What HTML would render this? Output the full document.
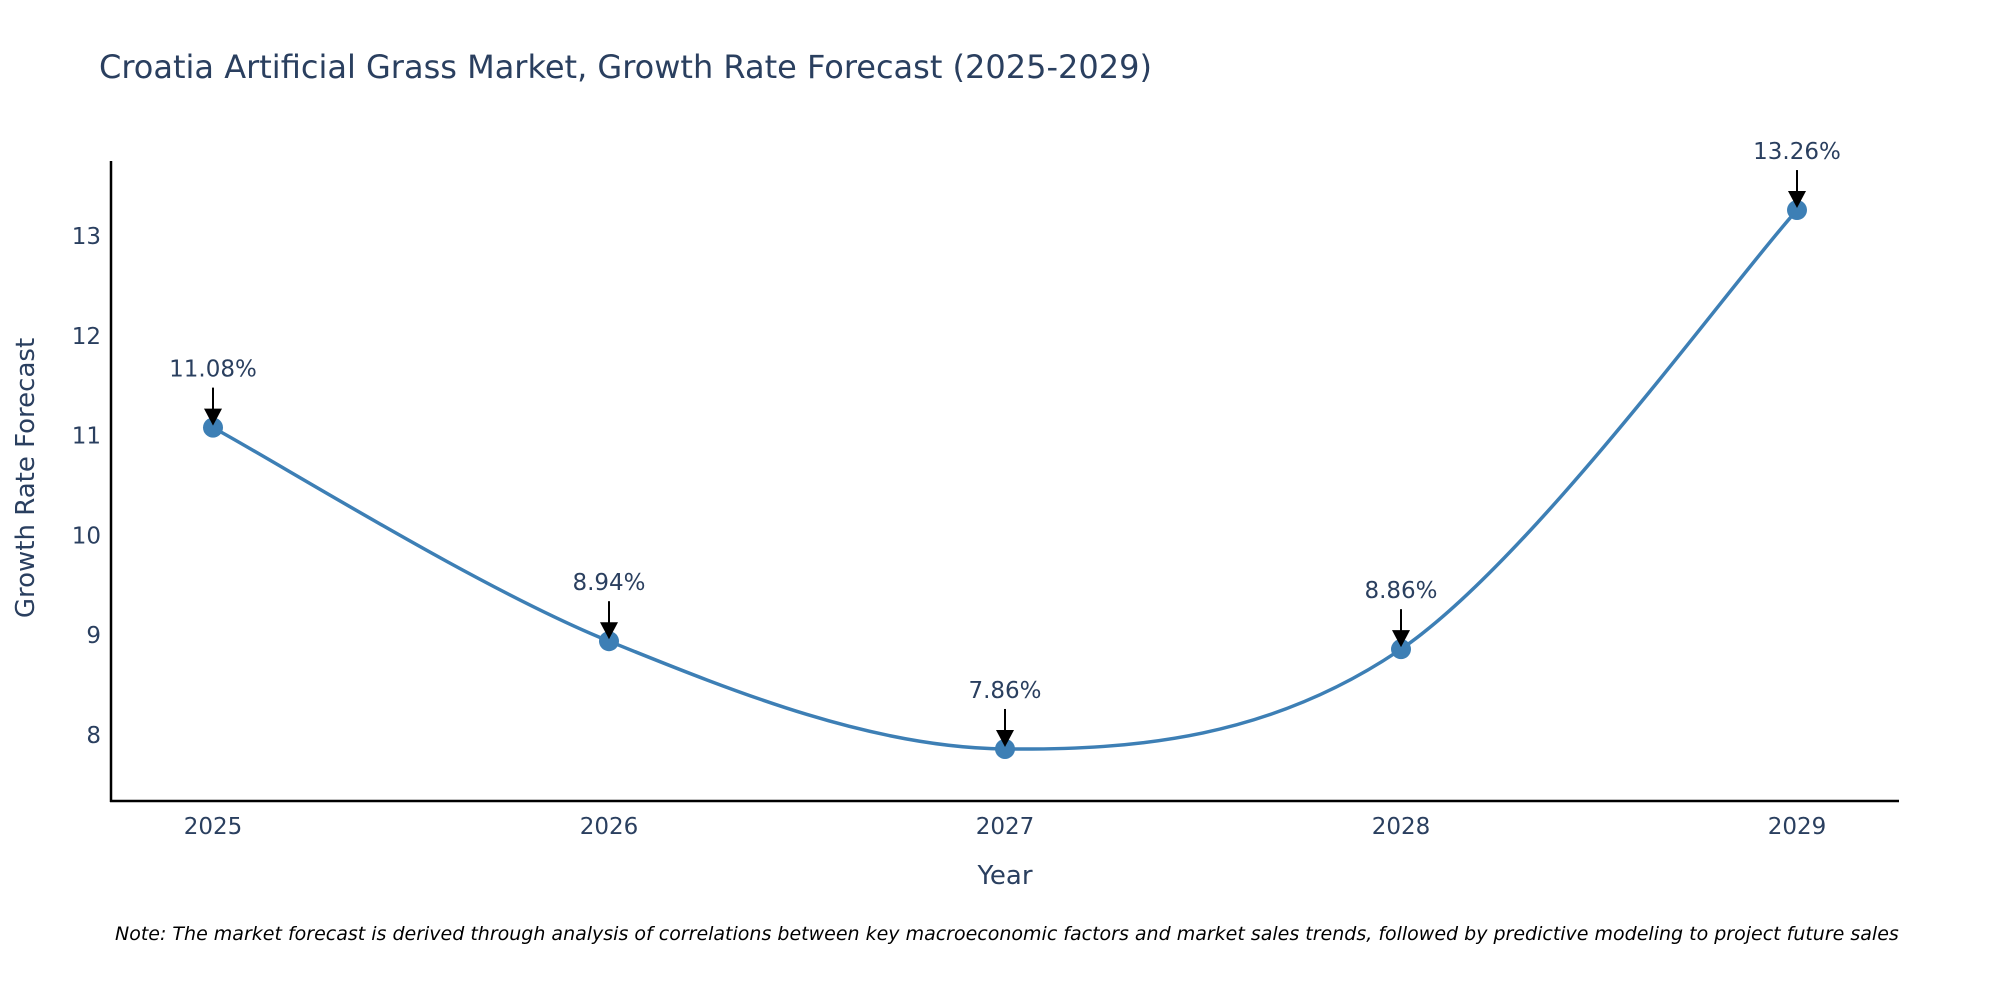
<!DOCTYPE html>
<html><head><meta charset="utf-8"><style>
body{margin:0;background:#fff;}
svg{display:block;font-family:"DejaVu Sans","Liberation Sans",sans-serif;}
</style></head><body>
<svg id="chart" width="2000" height="1000">
<text x="99" y="78" font-size="32" fill="#2a3f5f">Croatia Artificial Grass Market, Growth Rate Forecast (2025-2029)</text>
<g id="yticks"></g>
<g id="xticks"></g>
<line x1="111" y1="161" x2="111" y2="802" stroke="#000" stroke-width="2.5"/>
<line x1="110" y1="801" x2="1899" y2="801" stroke="#000" stroke-width="2.5"/>
<path id="line" fill="none" stroke="#3d7fb5" stroke-width="3.5"/>
<g id="pts"></g>
<text x="1005" y="884" font-size="26" fill="#2a3f5f" text-anchor="middle">Year</text>
<text transform="translate(34,478) rotate(-90)" font-size="26" fill="#2a3f5f" text-anchor="middle">Growth Rate Forecast</text>
<text x="115" y="940" font-size="19" font-style="italic" fill="#000">Note: The market forecast is derived through analysis of correlations between key macroeconomic factors and market sales trends, followed by predictive modeling to project future sales</text>
</svg>
<script>
const years=["2025","2026","2027","2028","2029"];
const values=[11.08,8.94,7.86,8.86,13.26];
const yTicks=[8,9,10,11,12,13];
const NS="http://www.w3.org/2000/svg";
function xs(i){return 213+i*(1797-213)/4;}
function ys(v){return 735-(v-8)*99.8;}
const svg=document.getElementById('chart');
function mk(t,a,p){const e=document.createElementNS(NS,t);for(const k in a)e.setAttribute(k,a[k]);(p||svg).appendChild(e);return e;}
const yt=document.getElementById('yticks');
yTicks.forEach(v=>{const t=mk('text',{x:101,y:ys(v)+8,'font-size':23,fill:'#2a3f5f','text-anchor':'end'},yt);t.textContent=v;

});
const xt=document.getElementById('xticks');
years.forEach((y,i)=>{const t=mk('text',{x:xs(i),y:834,'font-size':23,fill:'#2a3f5f','text-anchor':'middle'},xt);t.textContent=y;

});
const P=values.map((v,i)=>[xs(i),ys(v)]);
let d=`M${P[0][0]},${P[0][1]}`;const s=0.33;
for(let i=0;i<P.length-1;i++){const p0=P[Math.max(i-1,0)],p1=P[i],p2=P[i+1],p3=P[Math.min(i+2,P.length-1)];
const c1=[p1[0]+(p2[0]-p0[0])*s/2,p1[1]+(p2[1]-p0[1])*s/2],c2=[p2[0]-(p3[0]-p1[0])*s/2,p2[1]-(p3[1]-p1[1])*s/2];
d+=` C${c1[0]},${c1[1]} ${c2[0]},${c2[1]} ${p2[0]},${p2[1]}`;}
document.getElementById('line').setAttribute('d',d);
const g=document.getElementById('pts');
P.forEach((p,i)=>{const c=mk('circle',{cx:p[0],cy:p[1],r:10,fill:'#3d7fb5'},g);


const l=mk('line',{x1:p[0],y1:p[1]-40,x2:p[0],y2:p[1]-14,stroke:'#000','stroke-width':2},g);


const h=mk('polygon',{points:`${p[0]-9},${p[1]-19} ${p[0]+9},${p[1]-19} ${p[0]},${p[1]-2}`,fill:'#000'},g);


const t=mk('text',{x:p[0],y:p[1]-51,'font-size':23,fill:'#2a3f5f','text-anchor':'middle'},g);t.textContent=values[i].toFixed(2)+'%';

});
</script>
</body></html>
